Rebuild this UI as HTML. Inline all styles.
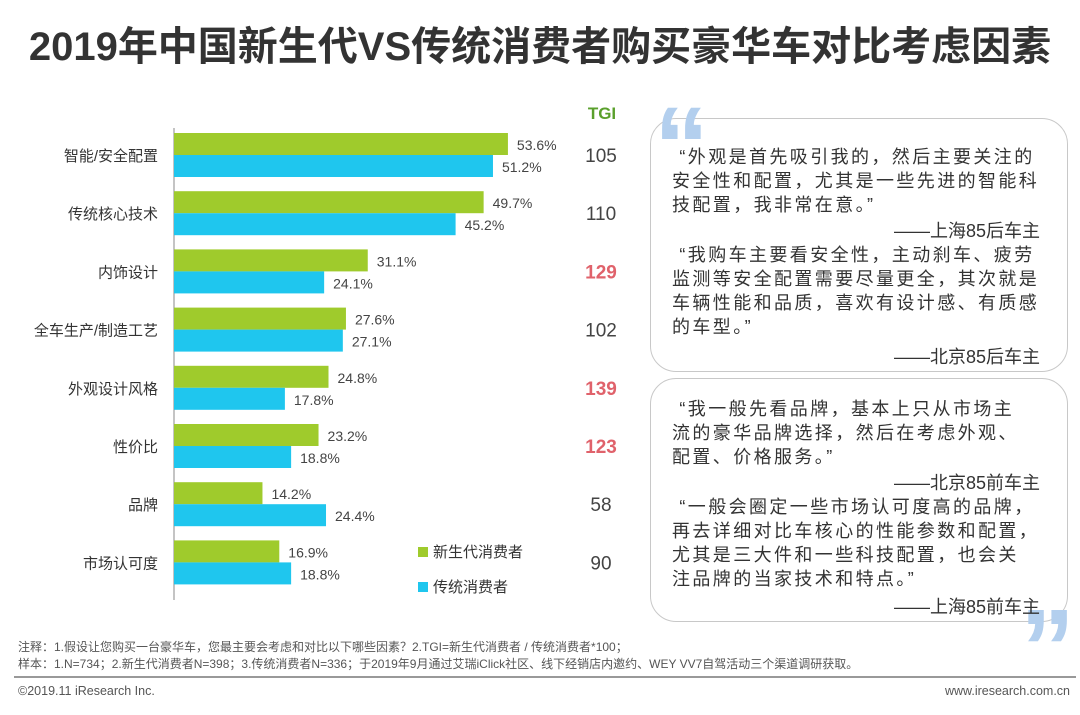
<!DOCTYPE html>
<html><head><meta charset="utf-8">
<style>
body{margin:0;width:1080px;height:715px;background:#fff;font-family:"Liberation Sans","Noto Sans CJK SC",sans-serif;position:relative;overflow:hidden;color:#333}
.abs{position:absolute}
.title{left:0;width:1080px;top:14px;text-align:center;font-size:40px;font-weight:bold;color:#333;letter-spacing:0px}
.box{border:1.5px solid #c8c8c8;border-radius:26px;left:650px;width:416px}
.q{left:672px;font-size:18px;letter-spacing:2.4px;line-height:24px;color:#333;white-space:nowrap}
.a{right:40px;font-size:18px;color:#333}
.note{left:18px;font-size:12px;color:#555}
.qm{font-family:"Liberation Sans",sans-serif;font-weight:bold;font-size:110px;color:#b3cfee;line-height:110px}
</style></head><body>
<div class="abs title">2019年中国新生代VS传统消费者购买豪华车对比考虑因素</div>
<svg class="abs" style="left:0;top:0" width="640" height="620">
<g id="g"></g>
<text x="602" y="119" text-anchor="middle" font-size="17" font-weight="bold" fill="#5aa02c">TGI</text>
<rect x="418" y="547" width="10" height="10" fill="#9fcb2c"/>
<text x="433" y="557" font-size="15" fill="#333">新生代消费者</text>
<rect x="418" y="582" width="10" height="10" fill="#1fc6ee"/>
<text x="433" y="592" font-size="15" fill="#333">传统消费者</text>
</svg>
<script>
const categories=["智能/安全配置","传统核心技术","内饰设计","全车生产/制造工艺","外观设计风格","性价比","品牌","市场认可度"];
const newGen=[53.6,49.7,31.1,27.6,24.8,23.2,14.2,16.9];
const traditional=[51.2,45.2,24.1,27.1,17.8,18.8,24.4,18.8];
const tgi=[105,110,129,102,139,123,58,90];
const tgiHighlight=[false,false,true,false,true,true,false,false];
const NS="http://www.w3.org/2000/svg";
const g=document.getElementById('g');
const x0=174,k=6.23,y0=133,pitch=58.2,bh=22;
function xs(v){return x0+v*k;}
function el(t,a){const e=document.createElementNS(NS,t);for(const n in a)e.setAttribute(n,a[n]);g.appendChild(e);return e;}
const ax=el('line',{x1:x0,y1:128,x2:x0,y2:600,stroke:'#888','stroke-width':1});


categories.forEach((c,i)=>{
  const y=y0+i*pitch;
  const t=el('text',{x:158,y:y+bh+6,'text-anchor':'end','font-size':15,fill:'#333'});t.textContent=c;
  
  
  const b1=el('rect',{x:x0,y:y,width:xs(newGen[i])-x0,height:bh,fill:'#9fcb2c'});
  
  
  const b2=el('rect',{x:x0,y:y+bh,width:xs(traditional[i])-x0,height:bh,fill:'#1fc6ee'});
  
  
  const v1=el('text',{x:xs(newGen[i])+9,y:y+17,'font-size':14,fill:'#444'});v1.textContent=newGen[i].toFixed(1)+'%';
  
  
  const v2=el('text',{x:xs(traditional[i])+9,y:y+bh+17,'font-size':14,fill:'#444'});v2.textContent=traditional[i].toFixed(1)+'%';
  
  
  const tg=el('text',{x:601,y:y+bh+7,'text-anchor':'middle','font-size':19,fill:tgiHighlight[i]?'#e0626b':'#444','font-weight':tgiHighlight[i]?'bold':'normal'});tg.textContent=tgi[i];
  
  
});
</script>
<div class="abs box" style="top:118px;height:252px"></div>
<div class="abs box" style="top:378px;height:242px"></div>
<div class="abs qm" style="left:654px;top:92px">“</div>
<div class="abs qm" style="left:1020px;top:594px">”</div>
<div class="abs q" style="top:145px">&nbsp;“外观是首先吸引我的，然后主要关注的<br>安全性和配置，尤其是一些先进的智能科<br>技配置，我非常在意。”</div>
<div class="abs a" style="top:217px">——上海85后车主</div>
<div class="abs q" style="top:243px">&nbsp;“我购车主要看安全性，主动刹车、疲劳<br>监测等安全配置需要尽量更全，其次就是<br>车辆性能和品质，喜欢有设计感、有质感<br>的车型。”</div>
<div class="abs a" style="top:343px">——北京85后车主</div>
<div class="abs q" style="top:397px">&nbsp;“我一般先看品牌，基本上只从市场主<br>流的豪华品牌选择，然后在考虑外观、<br>配置、价格服务。”</div>
<div class="abs a" style="top:469px">——北京85前车主</div>
<div class="abs q" style="top:495px">&nbsp;“一般会圈定一些市场认可度高的品牌，<br>再去详细对比车核心的性能参数和配置，<br>尤其是三大件和一些科技配置，也会关<br>注品牌的当家技术和特点。”</div>
<div class="abs a" style="top:593px">——上海85前车主</div>
<div class="abs note" style="top:638px">注释：1.假设让您购买一台豪华车，您最主要会考虑和对比以下哪些因素？2.TGI=新生代消费者 / 传统消费者*100；</div>
<div class="abs note" style="top:655px">样本：1.N=734；2.新生代消费者N=398；3.传统消费者N=336；于2019年9月通过艾瑞iClick社区、线下经销店内邀约、WEY VV7自驾活动三个渠道调研获取。</div>
<div class="abs" style="left:14px;top:676px;width:1062px;height:2px;background:#999"></div>
<div class="abs note" style="top:684px;font-size:12.5px">©2019.11 iResearch Inc.</div>
<div class="abs" style="right:10px;top:684px;font-size:12.5px;color:#555">www.iresearch.com.cn</div>
</body></html>
